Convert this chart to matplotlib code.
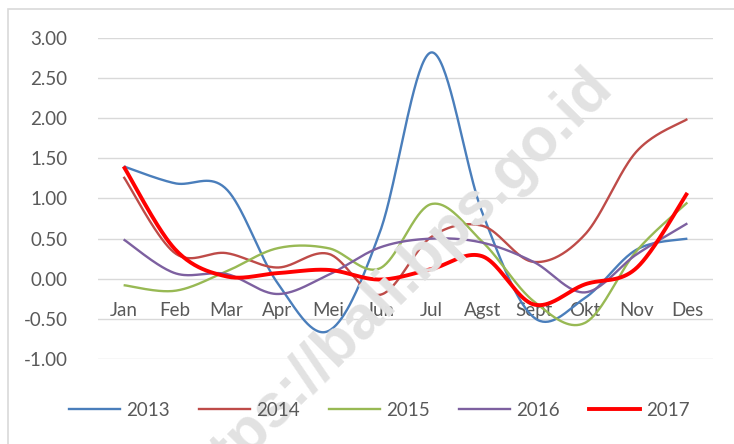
import numpy as np
import matplotlib
matplotlib.use("Agg")
import matplotlib.pyplot as plt
from matplotlib.lines import Line2D

months = ["Jan", "Feb", "Mar", "Apr", "Mei", "Jun", "Jul", "Agst", "Sept", "Okt", "Nov", "Des"]
y2013 = [1.40, 1.19, 1.12, -0.05, -0.65, 0.58, 2.82, 0.82, -0.48, -0.24, 0.36, 0.50]
y2014 = [1.27, 0.32, 0.32, 0.14, 0.31, -0.20, 0.52, 0.66, 0.21, 0.55, 1.58, 1.99]
y2015 = [-0.08, -0.15, 0.09, 0.38, 0.38, 0.13, 0.93, 0.46, -0.28, -0.55, 0.34, 0.95]
y2016 = [0.49, 0.07, 0.06, -0.19, 0.05, 0.39, 0.50, 0.45, 0.21, -0.17, 0.30, 0.69]
y2017 = [1.40, 0.37, 0.03, 0.07, 0.11, -0.01, 0.12, 0.28, -0.32, -0.07, 0.13, 1.07]
years = ["2013", "2014", "2015", "2016", "2017"]
series = [y2013, y2014, y2015, y2016, y2017]
colors = ["#4A7EBB", "#BE4B48", "#98B954", "#7D60A0", "#FF0000"]
widths = [1.7, 1.7, 1.7, 1.7, 2.8]
yticks = [-1.0, -0.5, 0.0, 0.5, 1.0, 1.5, 2.0, 2.5, 3.0]
watermark = "https://bali.bps.go.id"


def smooth(x, y, n=40):
    x = np.asarray(x, float)
    y = np.asarray(y, float)
    px = np.concatenate([[x[0]], x, [x[-1]]])
    py = np.concatenate([[y[0]], y, [y[-1]]])
    xs, ys = [], []
    for i in range(len(x) - 1):
        p0 = np.array([px[i], py[i]])
        p1 = np.array([px[i + 1], py[i + 1]])
        p2 = np.array([px[i + 2], py[i + 2]])
        p3 = np.array([px[i + 3], py[i + 3]])
        c1 = p1 + (p2 - p0) / 6.0
        c2 = p2 - (p3 - p1) / 6.0
        t = np.linspace(0, 1, n)[:, None]
        b = ((1 - t) ** 3) * p1 + 3 * ((1 - t) ** 2) * t * c1 + 3 * (1 - t) * t ** 2 * c2 + t ** 3 * p2
        if i > 0:
            b = b[1:]
        xs.append(b[:, 0])
        ys.append(b[:, 1])
    return np.concatenate(xs), np.concatenate(ys)


plt.rcParams['font.family'] = ['Lato', 'DejaVu Sans']
txt = "#595959"
fig = plt.figure(figsize=(7.34, 4.44), dpi=100)

# outer chart border
fig.patches.append(plt.Rectangle((8 / 734, -0.1), 1.2, 1 - 9 / 444 + 0.1, transform=fig.transFigure,
                                 fill=False, edgecolor="#D9D9D9", linewidth=1.2))

# watermark
fig.text(614 / 734, 1 - 88 / 444, watermark, rotation=45, rotation_mode="anchor",
         fontsize=44, fontweight="bold", family=["Liberation Sans", "DejaVu Sans"],
         color="#E2E2E2", ha="right", va="baseline", zorder=0)

ax = fig.add_axes([98 / 734, 1 - 359 / 444, (713 - 98) / 734, (359 - 38) / 444])
ax.patch.set_alpha(0)
ax.set_xlim(-0.5, 11.5)
ax.set_ylim(-1.0, 3.0)
ax.set_yticks(yticks)
ax.set_yticklabels([f"{v:.2f}" for v in yticks])
ax.tick_params(axis="y", length=0, pad=22, labelsize=13.5, labelcolor=txt)
ax.set_xticks([])
for s in ax.spines.values():
    s.set_visible(False)
ax.grid(axis="y", color="#D9D9D9", linewidth=1.0)
ax.set_axisbelow(True)

x = np.arange(len(months))
for m, lbl in enumerate(months):
    ax.text(m, -0.39, lbl, ha="center", va="center", fontsize=13.5, color=txt, zorder=1)

handles = []
for yr, ys_, c, w in zip(years, series, colors, widths):
    sx, sy = smooth(x, ys_)
    ax.plot(sx, sy, color=c, linewidth=w, solid_capstyle="butt", zorder=3)
    handles.append(Line2D([0], [0], color=c, linewidth=w))

fig.legend(handles, years, loc="center", bbox_to_anchor=(0.517, 0.076), ncol=5, frameon=False,
           fontsize=13.5, labelcolor=txt, handlelength=2.7, handletextpad=0.35, columnspacing=1.55)

fig.savefig("out.png", dpi=100)
